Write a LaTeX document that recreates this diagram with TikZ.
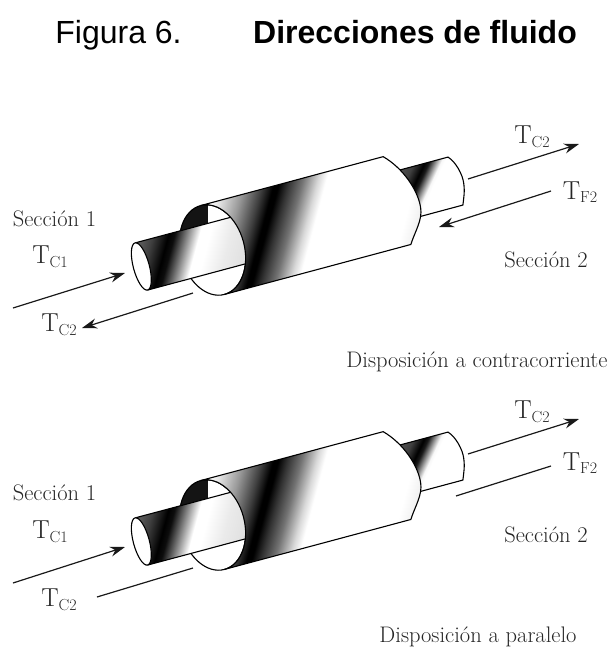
\documentclass[tikz,border=0pt]{standalone}
\usepackage{fontspec}
\newfontfamily\arialfont{Liberation Sans}
\usetikzlibrary{arrows.meta}
% stops: 1px = 0.2bp around 50bp, the filled square has side 250
\pgfdeclarehorizontalshading{bodyband}{100bp}{
  color(0bp)=(white); color(31bp)=(white); color(33bp)=(black!10);
  color(36.9bp)=(black!40); color(40.5bp)=(black!75); color(42.7bp)=(black);
  color(43.7bp)=(black); color(45.5bp)=(black!80); color(48.1bp)=(black!55);
  color(51.1bp)=(black!15); color(52.7bp)=(white); color(70bp)=(white);
  color(73bp)=(black!6); color(100bp)=(black!6)}
\pgfdeclarehorizontalshading{innerband}{100bp}{
  color(0bp)=(black!55); color(37.5bp)=(black!55); color(41.5bp)=(black!75);
  color(44.5bp)=(black); color(45.7bp)=(black!95); color(47.5bp)=(black!60);
  color(50.5bp)=(white); color(52.5bp)=(white); color(56.5bp)=(black!8);
  color(60.5bp)=(black!12); color(100bp)=(black!12)}
\pgfdeclarehorizontalshading{smallband}{100bp}{
  color(0bp)=(black!60); color(39bp)=(black!60); color(43bp)=(black!75);
  color(44.9bp)=(black); color(45.7bp)=(black!90); color(47bp)=(black!35);
  color(47.8bp)=(black!3); color(48.4bp)=(white); color(100bp)=(white)}
\newcommand{\templbl}[1]{T{\fontsize{16}{16}\selectfont\raisebox{-3.5pt}{#1}}}
\tikzset{
  flow/.style={line width=1.2pt,black!90},
  flowtip/.style={flow,-{Stealth[length=15pt,width=10pt]}},
  sect/.style={black!85,font=\fontsize{22.5}{26}\selectfont},
  temp/.style={black!85,font=\fontsize{26}{30}\selectfont},
  wall/.style={line width=1.1pt,black},
}
\begin{document}
\begin{tikzpicture}[x=1pt,y=-1pt]
\tikzstyle{every node}+=[inner sep=0pt]
\useasboundingbox (0,0) rectangle (612,649);
\draw (118.5,43) node [anchor=base] (figlbl) {\arialfont\fontsize{32}{36}\selectfont Figura 6.};
\draw (415,43) node [anchor=base] (figttl) {\arialfont\bfseries\fontsize{32}{36}\selectfont Direcciones de fluido};
% the two tubes, in the frame of the opening of the jacket
\foreach \dy in {0,275} {
\begin{scope}[shift={(212.5,250+\dy)},rotate=15,y=1pt]
\fill [white] (0,0) ellipse [x radius=32pt,y radius=46pt];
\begin{scope}
\clip (0,0) ellipse [x radius=32pt,y radius=46pt];
\fill [reset cm,black!92] (170,-190-\dy) rectangle (208,-240-\dy);
\end{scope}
\draw [wall] (0,0) ellipse [x radius=32pt,y radius=46pt];
% inner tube
\begin{scope}
\clip (-73,26.9) -- (35,26.9) -- (35,-21.9) -- (-73,-21.9) -- cycle;
\shade [reset cm,shading=innerband,shading angle=-15] (65,-135-\dy) rectangle ++(250,-250);
\end{scope}
\draw [wall] (-73,26.9) -- (35,26.9) (35,-21.9) -- (-73,-21.9);
\draw [wall,fill=white] (-73,2.5) ellipse [x radius=8pt,y radius=24.4pt];
% small tube
\begin{scope}
\clip (170,28.8) -- (251.5,28.8) .. controls (258,22) and (261,8) .. (260,0) .. controls (259,-9) and (256,-15) .. (253.5,-21.4) -- (170,-21.4) -- cycle;
\shade [reset cm,shading=smallband,shading angle=-25] (315,-65-\dy) rectangle ++(250,-250);
\end{scope}
\draw [wall] (170,28.8) -- (251.5,28.8) .. controls (258,22) and (261,8) .. (260,0) .. controls (259,-9) and (256,-15) .. (253.5,-21.4) -- (170,-21.4);
% jacket
\begin{scope}
\clip (0,46) -- (189,46) .. controls (205,30) and (214,5) .. (212,-13) .. controls (211,-25) and (200,-35) .. (193,-46) -- (0,-46) arc [start angle=-90,end angle=90,x radius=32pt,y radius=46pt];
\shade [reset cm,shading=bodyband,shading angle=-15] (175,-101-\dy) rectangle ++(250,-250);
\end{scope}
\draw [wall] (0,46) -- (189,46) .. controls (205,30) and (214,5) .. (212,-13) .. controls (211,-25) and (200,-35) .. (193,-46) -- (0,-46) arc [start angle=-90,end angle=90,x radius=32pt,y radius=46pt];
\end{scope}
}
% upper labels
\draw (54.5,219) node [sect] (secA) {Sección 1};
\draw (50,257) node [temp] (tcA) {\templbl{C1}};
\draw (59,325) node [temp] (tcB) {\templbl{C2}};
\draw (532,137) node [temp] (tcC) {\templbl{C2}};
\draw (580,192) node [temp] (tfA) {\templbl{F2}};
\draw (546,260) node [sect] (secB) {Sección 2};
\draw (477,362) node [sect] (dispA) {Disposición a contracorriente};
% lower labels
\draw (54.5,493) node [sect] (secC) {Sección 1};
\draw (50,532) node [temp] (tcD) {\templbl{C1}};
\draw (59,600) node [temp] (tcE) {\templbl{C2}};
\draw (532,412) node [temp] (tcF) {\templbl{C2}};
\draw (580,463) node [temp] (tfB) {\templbl{F2}};
\draw (546,535) node [sect] (secD) {Sección 2};
\draw (478,637) node [sect] (dispB) {Disposición a paralelo};
% upper flows
\coordinate (a1) at (13,308); \coordinate (a2) at (125,273);
\coordinate (b1) at (193,293); \coordinate (b2) at (82,328);
\coordinate (c1) at (468,179); \coordinate (c2) at (579,144);
\coordinate (d1) at (551,191); \coordinate (d2) at (439,227);
\draw [flowtip] (a1) -- (a2);
\draw [flowtip] (b1) -- (b2);
\draw [flowtip] (c1) -- (c2);
\draw [flowtip] (d1) -- (d2);
% lower flows
\coordinate (e1) at (13,583); \coordinate (e2) at (125,547);
\coordinate (f1) at (193,568); \coordinate (f2) at (97,597);
\coordinate (g1) at (468,454); \coordinate (g2) at (579,419);
\coordinate (h1) at (551,466); \coordinate (h2) at (456,496);
\draw [flowtip] (e1) -- (e2);
\draw [flow] (f1) -- (f2);
\draw [flowtip] (g1) -- (g2);
\draw [flow] (h1) -- (h2);
\end{tikzpicture}
\end{document}
